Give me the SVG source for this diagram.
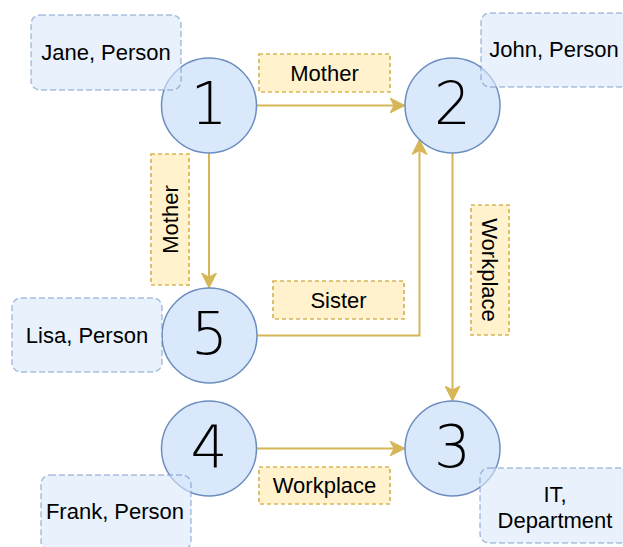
<svg xmlns="http://www.w3.org/2000/svg" width="623" height="547" viewBox="0 0 623 547">
<style>
.node circle{fill:#dae8fc;stroke:#6c8ebf;stroke-width:1.5}
.num{font-family:"DejaVu Sans",sans-serif;font-weight:200;font-size:58px;fill:#000;text-anchor:middle}
.note rect{fill:#dae8fc;fill-opacity:0.6;stroke:#6c8ebf;stroke-opacity:0.55;stroke-width:1.5;stroke-dasharray:6 3}
.lbl rect{fill:#fff2cc;stroke:#d6b656;stroke-width:1.7;stroke-dasharray:4 3}
.t{font-family:"Liberation Sans",Arial,sans-serif;font-size:22px;fill:#000;text-anchor:middle}
.edges path{fill:none;stroke:#d6b656;stroke-width:2}
</style>
<defs>
<marker id="arr" markerUnits="userSpaceOnUse" markerWidth="16" markerHeight="16" viewBox="0 0 16 16" refX="15" refY="8" orient="auto">
<path d="M0,0.5 L15,8 L0,15.5 L4,8 Z" fill="#d6b656" stroke="#d6b656" stroke-width="1"/>
</marker>
</defs>
<g id="edges" class="edges">
<path d="M256.5,105.5 H405" marker-end="url(#arr)"/>
<path d="M209,153 V288" marker-end="url(#arr)"/>
<path d="M257,335.5 H419.5 V139.5" marker-end="url(#arr)"/>
<path d="M452.5,153 V401" marker-end="url(#arr)"/>
<path d="M256.5,448.5 H405" marker-end="url(#arr)"/>
</g>
<g id="n1" class="node"><circle cx="209" cy="105.5" r="47.5"/><text class="num" x="209" y="124">1</text></g>
<g id="n2" class="node"><circle cx="452.5" cy="105.5" r="47.5"/><text class="num" x="452.5" y="124">2</text></g>
<g id="n5" class="node"><circle cx="209.5" cy="335.5" r="47.5"/><text class="num" x="209.5" y="354">5</text></g>
<g id="n4" class="node"><circle cx="209" cy="448.5" r="47.5"/><text class="num" x="209" y="467">4</text></g>
<g id="n3" class="node"><circle cx="452.5" cy="448.5" r="47.5"/><text class="num" x="452.5" y="467">3</text></g>
<g id="note-jane" class="note"><rect x="31" y="15" width="150" height="75" rx="9"/><text class="t" x="106" y="59.5">Jane, Person</text></g>
<g id="note-john" class="note"><rect x="481" y="13" width="150" height="74" rx="9"/><text class="t" x="554" y="57">John, Person</text></g>
<g id="note-lisa" class="note"><rect x="12" y="298" width="150" height="74" rx="9"/><text class="t" x="87" y="343">Lisa, Person</text></g>
<g id="note-frank" class="note"><rect x="41" y="475" width="150" height="75" rx="9"/><text class="t" x="115" y="519">Frank, Person</text></g>
<g id="note-it" class="note"><rect x="480" y="468" width="150" height="75" rx="9"/><text class="t" x="555" y="502">IT,</text><text class="t" x="555" y="528">Department</text></g>
<g id="lbl-mother1" class="lbl"><rect x="259" y="54" width="131" height="38"/><text class="t" x="324.5" y="80.5">Mother</text></g>
<g id="lbl-mother2" class="lbl"><rect x="151" y="154" width="38" height="131"/><text class="t" transform="translate(170,219.5) rotate(-90)" x="0" y="8">Mother</text></g>
<g id="lbl-sister" class="lbl"><rect x="273" y="281" width="131" height="38"/><text class="t" x="338.5" y="307.5">Sister</text></g>
<g id="lbl-work1" class="lbl"><rect x="471" y="205" width="38" height="130"/><text class="t" transform="translate(490,270) rotate(90)" x="0" y="8">Workplace</text></g>
<g id="lbl-work2" class="lbl"><rect x="259" y="467" width="131" height="37"/><text class="t" x="324.5" y="493">Workplace</text></g>
</svg>
